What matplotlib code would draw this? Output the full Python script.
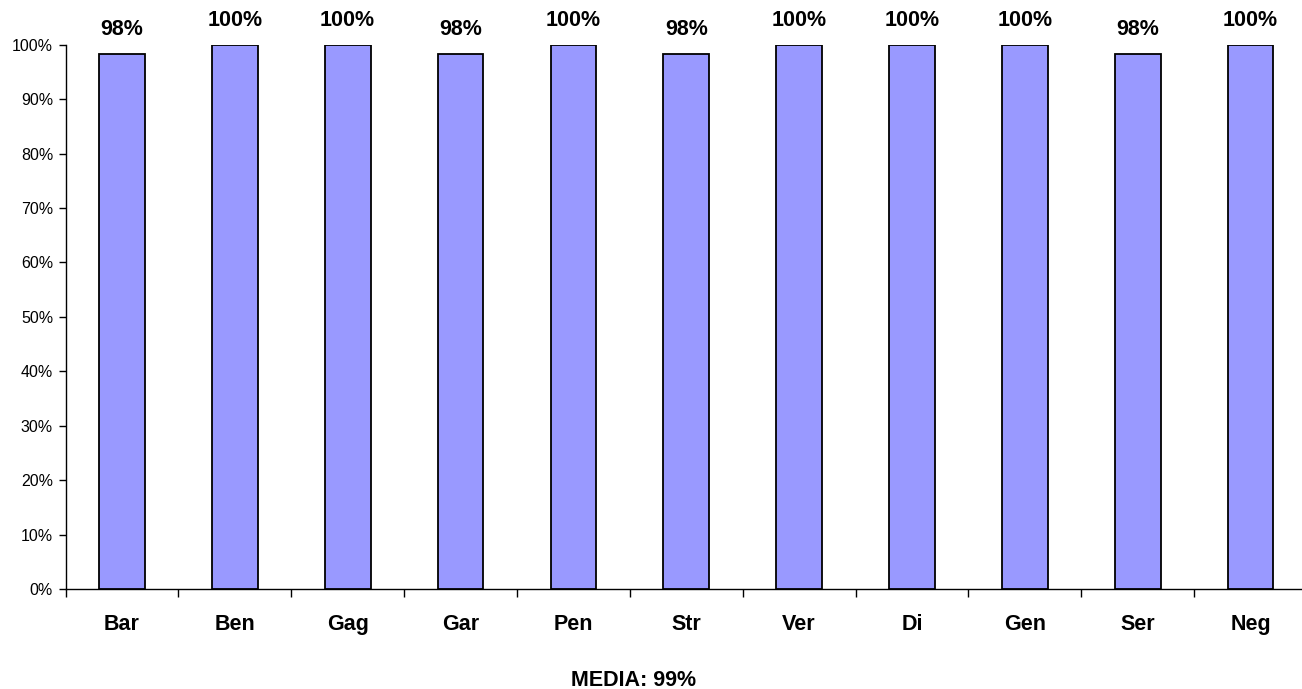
import matplotlib
matplotlib.use("Agg")
import matplotlib.pyplot as plt
from matplotlib.ticker import FixedLocator, NullFormatter, PercentFormatter

categories = ["Bar", "Ben", "Gag", "Gar", "Pen", "Str", "Ver", "Di", "Gen", "Ser", "Neg"]
values = [98.3, 100, 100, 98.3, 100, 98.3, 100, 100, 100, 98.3, 100]
value_labels = ["98%", "100%", "100%", "98%", "100%", "98%", "100%", "100%", "100%", "98%", "100%"]
media_label = "MEDIA: 99%"

plt.rcParams["font.family"] = ["Liberation Sans", "DejaVu Sans"]

W, H = 1302, 689
fig = plt.figure(figsize=(W / 100, H / 100), dpi=100)
# plot area in pixels: left 65.5, bottom y=589, top y=44.7, right runs off the edge
left, right, top, bottom = 65.5, 1307.0, 44.7, 589.0
ax = fig.add_axes([left / W, 1 - bottom / H, (right - left) / W, (bottom - top) / H])

x = list(range(len(categories)))
ax.bar(x, values, width=0.405, color="#9999ff", edgecolor="black", linewidth=1.3, zorder=3)

for xi, v, lab in zip(x, values, value_labels):
    ax.annotate(lab, (xi, v), xytext=(0, 10), textcoords="offset points",
                ha="center", va="bottom", fontsize=15.5, fontweight="bold")

ax.set_xlim(-0.5, len(categories) - 0.5)
ax.set_ylim(0, 100)

ax.yaxis.set_major_locator(FixedLocator(range(0, 101, 10)))
ax.yaxis.set_major_formatter(PercentFormatter(decimals=0))
ax.tick_params(axis="y", length=5, width=1, labelsize=11.5, pad=4)

# category separators as ticks, names as minor labels
ax.xaxis.set_major_locator(FixedLocator([i - 0.5 for i in range(len(categories) + 1)]))
ax.xaxis.set_major_formatter(NullFormatter())
ax.set_xticks(x, minor=True)
ax.set_xticklabels(categories, minor=True, fontsize=15.5, fontweight="bold")
ax.tick_params(axis="x", which="major", length=6, width=1)
ax.tick_params(axis="x", which="minor", length=0, pad=18)

for side in ("top", "right"):
    ax.spines[side].set_visible(False)
ax.spines["left"].set_linewidth(1)
ax.spines["bottom"].set_linewidth(1)

fig.text(634 / W, 1 - 680 / H, media_label, ha="center", va="center",
         fontsize=15.5, fontweight="bold")

fig.savefig("out.png", dpi=100)
